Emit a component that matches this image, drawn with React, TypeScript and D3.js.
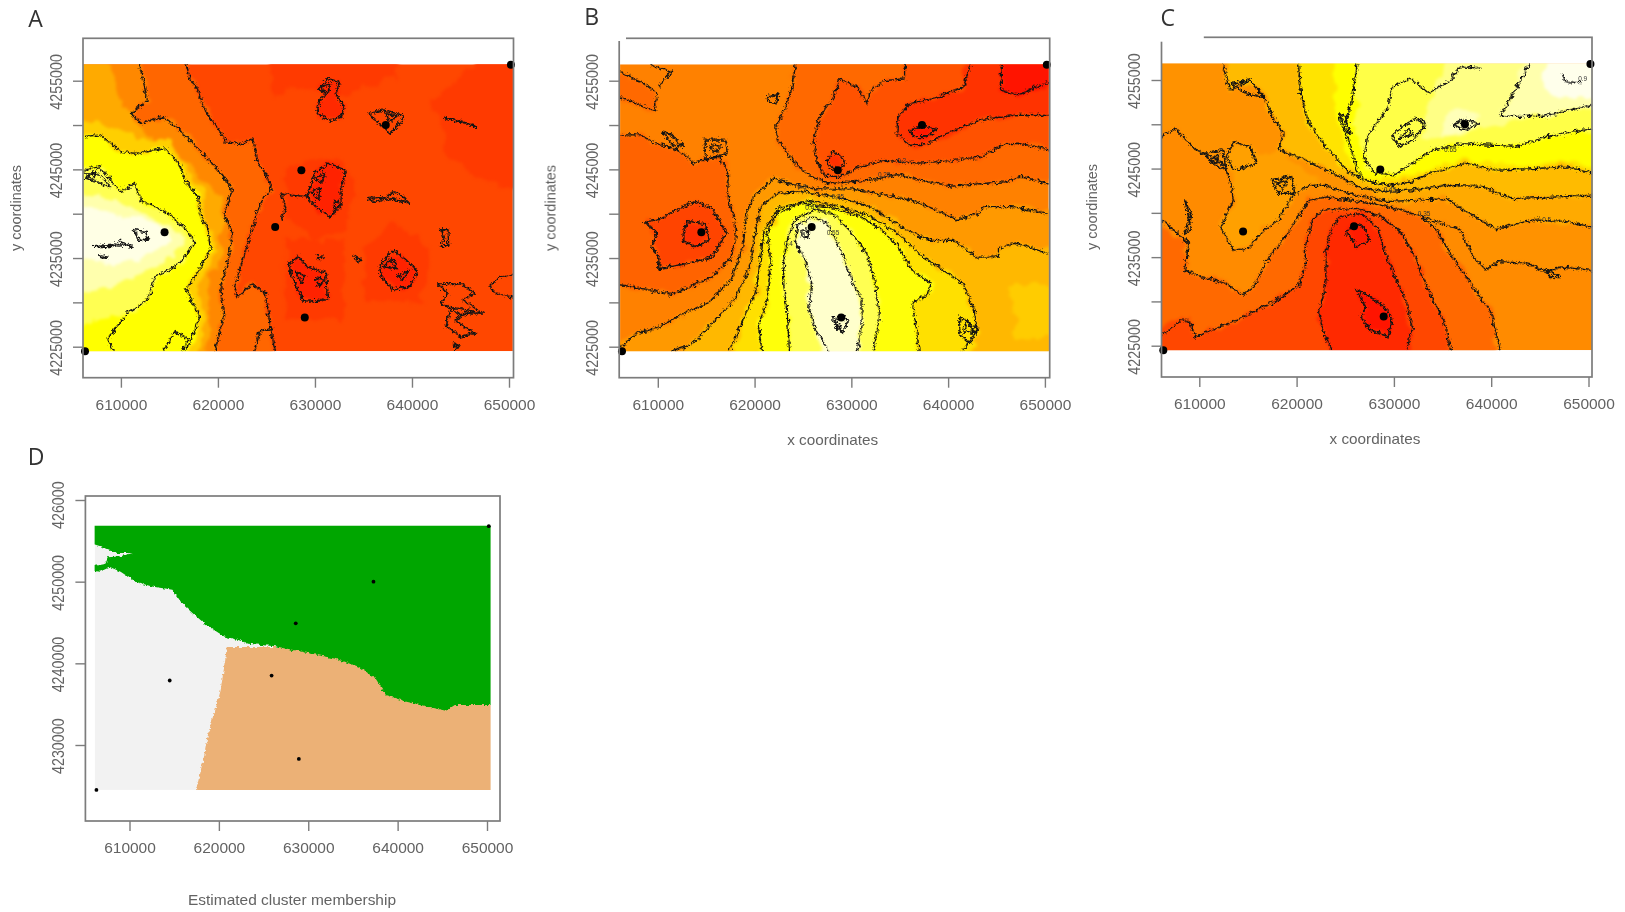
import React, { useEffect, useRef } from 'react';
import * as d3 from 'd3';

type Pt = [number, number];

// all map points are km east / north of this origin
const ORIGIN_E = 600000;
const ORIGIN_N = 4220000;
const E0 = 6.1;
const E1 = 50.4;
const N0 = 4.5;
const N1 = 36.85;

const xTicks = [610000, 620000, 630000, 640000, 650000];
const yTicks = [4225000, 4230000, 4235000, 4240000, 4245000, 4250000, 4255000];
const yLabelled = [4225000, 4235000, 4245000, 4255000];
const dYTicks = [4230000, 4240000, 4250000, 4260000];
const dYLabels = ['4230000', '4240000', '4250000', '426000'];

const stations: Pt[] = [[14.5, 17.9], [25.9, 18.5], [28.6, 24.9], [37.3, 30], [28.95, 8.3], [6.3, 4.5], [50.2, 36.8]];

// ---- panel A
const aLine1: Pt[] = [[16.7, 36.85], [17.2, 35.1], [18, 33.9], [18.5, 32], [19.2, 30.9], [20.3, 29.1], [20.8, 28.1], [22.4, 27.9], [23.6, 28.5], [24, 26], [24.9, 24.5], [25.6, 22.7], [24.7, 21.9], [24, 20], [23.5, 18.2], [22.9, 15.9], [22.2, 13.6], [21.7, 11.8], [22, 10.6], [23.5, 12.1], [24.9, 11], [25.3, 8], [25.6, 6.1], [25.9, 4.5]];
const aLine2: Pt[] = [[11.9, 36.85], [12.3, 35.1], [12.7, 32.8], [11, 31.3], [12.1, 30.2], [14.2, 30.9], [15.3, 30.2], [16.7, 28.7], [18.8, 26.4], [20.6, 24.2], [21.5, 22.7], [20.6, 20], [21.5, 17.8], [21, 14.4], [20.3, 11.8], [20.6, 8.4], [19.7, 4.5]];
const aLine3: Pt[] = [[6.1, 28.7], [7.8, 28.9], [10, 27], [11.7, 26.8], [14.5, 27.4], [16, 25.7], [16.7, 23.6], [18, 21.9], [18.2, 19.7], [19, 18.2], [19.2, 15.9], [18, 13.6], [16.7, 11.4], [18.1, 8.4], [17.6, 6.7], [16.7, 4.5]];
const aLine4: Pt[] = [[6.1, 24.9], [7.8, 25.3], [8.9, 23.8], [10, 22.5], [11.4, 23.4], [12.1, 21.5], [13.5, 20.8], [15.3, 19.7], [17.1, 17.8], [17.6, 16.7], [16.4, 14.8], [14.9, 13.6], [13.5, 12.9], [12.8, 10.3], [10.7, 8.8], [9.3, 6.9], [8.6, 5.8], [9.3, 4.5]];
const aEdge3: Pt[] = [[8.2, 36.85], [10, 32.8], [12.5, 29.1], [16, 26.4], [18.6, 23.8], [20.3, 21.5], [20.3, 18.5], [20.3, 15.5], [18.8, 12.1], [19.2, 8.4], [18.5, 4.5]];
const aEdge4: Pt[] = [[6.1, 30.6], [8.2, 30.2], [11.7, 28.3], [15.3, 28.3], [16.7, 25.3], [18.5, 22.7], [18.8, 19.7], [19.7, 17], [19.2, 14], [17.8, 11.8], [18.7, 8.4], [18, 4.5]];
const aBlob1: Pt[] = [[30.4, 34.1], [31.3, 35.2], [32.5, 34.8], [32.2, 33.4], [33, 31.9], [32.7, 30.9], [31.6, 30.5], [30.2, 31.3], [30.5, 32.8], [31.1, 33.4]];
const aBlob2: Pt[] = [[29.9, 24.5], [31.3, 25.7], [33.2, 24.9], [32.7, 22.7], [32.7, 20.8], [31.6, 19.7], [30.2, 20.6], [29.2, 21.9], [29.5, 23]];
const aBlob3: Pt[] = [[27.4, 14.4], [28.3, 15.2], [29.2, 14], [31.1, 13.3], [31.3, 10.3], [28.8, 10.1], [28.1, 11.8], [27.4, 13.6]];
const aBlob4: Pt[] = [[36.6, 14], [38, 15.9], [39.4, 14.8], [40.5, 13.6], [39.8, 11.8], [38, 11.4], [36.9, 12.9]];
const aLevels = [0.17, 0.17, 0.17, 0.17, 0.17, 0.3, 0.4, 0.5, 0.61, 0.75, 0.83, 0.92, 0.975, 0.12, 0.1, 0.1, 0.1];
const aRings: Pt[][] = [
  [[25.3, 36.85], [25.5, 34], [26, 33.2], [27, 34.5], [30, 34], [32, 33], [34, 34], [36, 34.5], [38, 35.5], [40, 36.85]],
  [[42, 33], [44, 34], [47, 36.85], [50.4, 36.85], [50.4, 22], [47, 24], [44, 26], [43, 30]],
  [[27, 25], [30, 26], [33, 26], [34, 22], [33, 18], [30, 17], [27, 20]],
  [[27, 8], [33, 8], [33, 17], [27, 17]],
  [[35, 10], [41, 10], [42, 16], [38, 19], [35, 16]],
  [...aLine1, [E0, N0], [E0, N1]],
  [...aLine2, [E0, N0], [E0, N1]],
  [...aEdge3, [E0, N0], [E0, N1]],
  [...aEdge4, [E0, N0]],
  [...aLine3, [E0, N0]],
  [...aLine4.slice(0, 15), [8, 8], [6.1, 7]],
  [[6.1, 22.7], [9.6, 21.5], [12.5, 20], [15.3, 18.5], [16.7, 17], [15.3, 15.2], [12.5, 13.6], [9.6, 11.8], [6.1, 11]],
  [[6.1, 20.8], [9.6, 20], [14, 18.9], [15.3, 17], [13, 15.2], [9.6, 14.5], [6.1, 14.8]],
  aBlob1, aBlob2, aBlob3, aBlob4,
];
const aLines: Pt[][] = [
  aLine1, aLine2, aLine3, aLine4,
  [[6.1, 24.5], [7.8, 24.5], [8.9, 23], [7.8, 23.4], [6.5, 24.1]],
  [[14.3, 4.5], [15.6, 6.7], [16.9, 5.9], [16.3, 4.5]],
  [[23.8, 4.5], [24.3, 6.7], [25.6, 7.1]],
  [[29.2, 21.9], [27.7, 22.1], [26.5, 22.3], [27, 20.8], [26.5, 19.3]],
  [[48, 11.8], [49, 12.9], [50.4, 13.1]],
  [[50.4, 10.6], [48.7, 11], [48, 11.8]],
];
const aLoops: Pt[][] = [
  aBlob1, aBlob2, aBlob3, aBlob4,
  [[35.6, 31.3], [37, 31.7], [39.1, 31.1], [38.8, 30.2], [37.7, 29.1], [36.6, 30.2], [35.9, 30.9]],
  [[43.3, 30.8], [45.1, 30.4], [46.7, 29.8], [45.5, 30.2]],
  [[35.4, 21.7], [37.3, 21.9], [38.4, 22.5], [39.8, 21.2], [37.7, 21.7], [36, 21.4]],
  [[43, 18.2], [43.7, 18.2], [43.8, 16.3], [43, 16.3], [43.3, 17.2]],
  [[42.6, 12.1], [45.1, 12.1], [46.5, 11], [45.2, 10.3], [47.2, 8.8], [45.5, 8.8], [44.4, 8], [46.5, 6.5], [45.1, 6.1], [43.5, 7.3], [44, 9.2], [43, 9.9], [43.7, 11]],
  [[34.1, 15.2], [34.8, 14.8], [34.3, 14.6]],
  [[44.3, 5.3], [44.8, 5.1], [44.5, 4.7]],
  [[30.2, 15.2], [30.8, 15.1], [30.4, 14.8]],
  [[11.3, 18.2], [12.5, 18], [12.8, 17], [11.9, 17]],
  [[7.1, 16.3], [9, 16.3], [9.9, 16.9], [11.2, 16.3], [9.9, 16.5]],
  [[7.8, 15.3], [8.7, 15.1], [8.2, 15]],
  [[30.6, 34.4], [31.6, 34.6], [31.4, 33.6], [30.8, 33.8]],
  [[30, 24], [31, 24.6], [30.8, 23.5]],
  [[29.6, 22.4], [30.5, 23], [30.4, 21.6]],
  [[32, 21.5], [32.6, 21], [32, 20.4]],
  [[28, 13.5], [29, 13], [28.6, 12.2]],
  [[30, 12.8], [31, 12.6], [30.4, 11.8]],
  [[37, 14], [38, 15], [38.4, 13.8]],
  [[38.6, 13], [39.6, 13.6], [39, 12.4]],
  [[37.3, 31.3], [38.5, 31], [37.6, 30.4]],
  [[44, 9.5], [46.4, 9], [45, 8.5]],
  [[6.3, 24], [7.5, 24.8], [7.2, 23.9]],
];
const aBaseLevel = 0.21;

// ---- panel B
const bLeft: Pt[] = [[6, 28.9], [8.2, 28.9], [9.9, 27.9], [12.1, 27.2], [13.8, 25.7], [14.9, 26.1], [16.3, 26.4], [17.2, 24.9], [17.3, 21.5], [17.9, 19.7], [18.1, 17.4], [17.6, 15.1], [15.6, 12.9], [13.5, 11.8], [11.4, 10.9], [9.2, 11.4], [6, 12]];
const bLoop2: Pt[] = [[8.7, 19.1], [10.1, 19.3], [11.2, 20], [13.8, 21.4], [15.6, 20.6], [17.1, 17.8], [15.6, 15.1], [13.1, 14.4], [10.1, 13.8], [10.1, 15.1], [9.4, 16.3], [9.9, 17.8]];
const bLoop3: Pt[] = [[12.6, 17.8], [13.1, 19.1], [14.9, 18.9], [15.3, 17], [13.8, 16.3], [12.6, 17]];
const bCorner: Pt[] = [[6, 36.1], [8.5, 34.7], [9.9, 33.6], [9.7, 31.6], [7.8, 32.4], [6, 33.2]];
const bTip: Pt[] = [[9.2, 36.8], [11.5, 36], [10.1, 34.4]];
const bUpper1: Pt[] = [[24.2, 36.85], [24, 34.7], [23.1, 31.7], [22.2, 29.8], [22.4, 28.3], [24.2, 25.7], [25.6, 24.3], [27.7, 23.4], [29.9, 23.6], [32, 23.8], [34.8, 24.4], [37, 23.8], [40.5, 23.1], [43.4, 23.4], [45.9, 23.6], [47.6, 24.2], [50.4, 23.4]];
const bUpper2: Pt[] = [[35.5, 36.85], [35.5, 35.2], [33.4, 35], [32, 33.9], [31.6, 32.4], [30.6, 34.3], [28.8, 35.2], [28.1, 33.1], [26.7, 30.9], [26.1, 28.3], [26.5, 25.7], [27.4, 24.2], [29.1, 24.2], [30.9, 25.3], [33.4, 26], [37, 25.7], [40.5, 26], [43.4, 26.4], [45.9, 27.9], [47.6, 27.9], [50.4, 27.2]];
const bUpper3: Pt[] = [[42.3, 36.85], [41.6, 34.3], [38.8, 33.1], [36, 32.4], [34.8, 30.9], [34.7, 29], [36, 27.8], [37.7, 27.8], [39.8, 29], [43.4, 30.6], [46.9, 31.1], [50.4, 31.1]];
const bUpper4: Pt[] = [[45.5, 36.85], [45.5, 33.9], [47.3, 33.4], [50.4, 34.9]];
const bStation1: Pt[] = [[27.5, 26], [28.1, 27], [29.1, 26.3], [29.3, 25.5], [28.4, 25], [27.7, 25.4]];
const bStation2: Pt[] = [[36, 29.3], [37.3, 29.9], [38.8, 29.5], [37.7, 28.7], [36.5, 28.7]];
const bFan0: Pt[] = [[6.2, 5], [7.8, 6.5], [9.9, 7.1], [12.8, 8.8], [15.3, 10], [17.6, 12.6], [18.8, 16.3], [19.2, 20.1], [19.9, 21.9], [22, 24], [23.5, 23.4], [26.3, 22.8], [29.9, 22.8], [32.7, 22.3], [36.3, 21.5], [38.8, 20.4], [40.9, 19.3], [43, 20], [43.7, 20.8], [46.6, 20.8], [50.4, 20]];
const bFan1: Pt[] = [[11.4, 4.5], [13.5, 5.2], [15.6, 7.6], [18.1, 10.6], [19.5, 14], [20.1, 18.1], [20.6, 20.8], [22.4, 22.3], [24.9, 22.5], [28.4, 21.9], [32, 20.8], [35.2, 18.5], [38, 17], [40.5, 17], [43, 15.1], [45.2, 15.1], [45.2, 16.1], [46.9, 16.7], [50.4, 15.5]];
const bFan2: Pt[] = [[17.4, 4.5], [18.8, 8], [20.1, 11], [20.6, 14.8], [21, 18.1], [22.4, 20.6], [25.6, 21.5], [28.8, 20.8], [32, 19.7], [34.8, 17.8], [37, 15.5], [39.5, 13.6], [41.6, 12.1], [42.7, 9.1], [43, 6.8], [41.4, 4.5]];
const bFan3: Pt[] = [[20.8, 4.5], [20.4, 7.3], [21.3, 10.3], [21.7, 14.8], [21.3, 17.8], [22.4, 20.1], [24.9, 21.2], [28.4, 20.6], [30.9, 19.7], [33.1, 18.2], [34.8, 16.3], [36.3, 13.6], [38.2, 12.1], [38, 11], [36.3, 9.9], [36.8, 6.5], [37, 4.5]];
const bFan4: Pt[] = [[23.6, 4.5], [23.4, 8.4], [23, 12.1], [23, 14.8], [23.5, 17.5], [24.2, 19.4], [26.3, 20.4], [28.1, 20], [29.9, 18], [31.6, 15.5], [32.5, 12.1], [32.9, 8.4], [32.3, 4.5]];
const bFan5: Pt[] = [[27.7, 4.5], [26.3, 6.9], [25.6, 9.4], [25.9, 12.1], [25.2, 14.8], [24.2, 17], [24.5, 18.8], [25.9, 19.6], [27.4, 19.1], [28.4, 17], [29.2, 15.1], [30.2, 12.1], [31.1, 10.3], [31.1, 7.3], [30.6, 4.5]];
const bLevels = [0.29, 0.2, 0.14, 0.31, 0.31, 0.24, 0.15, 0.06, 0.14, 0.07, 0.45, 0.54, 0.6, 0.66, 0.76, 0.83, 0.95];
const bRings: Pt[][] = [
  bLeft, bLoop2, bLoop3,
  bCorner,
  [...bUpper1, [E1, N1]],
  [...bUpper2, [E1, N1]],
  [...bUpper3, [E1, N1]],
  [...bUpper4, [E1, N1]],
  bStation1, bStation2,
  [...bFan0, [E1, N0], [E0, N0]],
  [...bFan1, [E1, N0]],
  [[46.5, 12], [E1, 12], [E1, 6], [47, 6]],
  bFan2, bFan3, bFan4, bFan5,
];
const bLines: Pt[][] = [bLeft, bCorner, bTip, bUpper1, bUpper2, bUpper3, bUpper4, bFan0, bFan1, bFan2, bFan3, bFan4, bFan5];
const bLoops: Pt[][] = [
  bLoop2, bLoop3, bStation1, bStation2,
  [[28.1, 8.4], [29.1, 8.4], [29.6, 8], [29.1, 6.5], [28.1, 8]],
  [[41.2, 8.4], [43, 7], [42.3, 5.3], [41.2, 6.4]],
  [[21.3, 33.2], [22.4, 33.4], [22.2, 32.4], [21.5, 32.6]],
  [[10.5, 29.2], [11.3, 29], [12.6, 27.6], [11.5, 27.8]],
  [[14.9, 28.3], [17, 28.3], [17.2, 26.8], [14.9, 26.1]],
  [[24.9, 18.2], [25.6, 18.1], [25.5, 17.3], [24.9, 17.4]],
  [[15.4, 27.8], [16.6, 27.6], [15.8, 26.8]],
  [[42, 8], [42.6, 6.6], [41.6, 6.8]],
  [[28.4, 8], [29, 7.4], [28.5, 6.9]],
];
const bBaseLevel = 0.38;
const bLabels = ['0.25', '0.3', '0.35', '0.45', '0.55', '0.4', '0.2'];
const bLabelAt: Pt[] = [[33.4, 24.4], [24.9, 23], [28.6, 21.9], [25.9, 20.6], [28.1, 17.8], [23.5, 16.6], [35.2, 26]];

// ---- panel C
const cMid: Pt[] = [[6.1, 28.6], [7.6, 29.5], [9.6, 27.1], [11, 26.5], [12.6, 25.4], [13.3, 23], [13.5, 21.4], [12.2, 18.4], [13.5, 15.8], [15.1, 16], [16.3, 17.7], [18.1, 19.2], [19.5, 21.8], [21.3, 23.1], [23, 23.1], [25.9, 22], [29.4, 21.3], [32.2, 21.4], [35.4, 21.6], [37.2, 20.3], [40.4, 18.2], [44.3, 19.2], [47.8, 19], [E1, 18.4]];
const cUpper1: Pt[] = [[12.4, 36.85], [13.1, 33.9], [15.2, 35], [16.7, 33.1], [17.5, 30.9], [18.6, 29], [18.2, 27.1], [20.9, 26], [23.7, 24.5], [26.6, 22.8], [29, 22.4], [31.9, 22.6], [35.4, 23.1], [39, 23], [42.1, 21.6], [47.1, 21.8], [E1, 22]];
const cUpper2: Pt[] = [[20.2, 36.85], [20.4, 33.5], [21.3, 30.1], [23, 27.5], [25.2, 24.8], [26.9, 23.7], [29.4, 23.1], [31.9, 23.5], [33.6, 24.5], [37.5, 25.6], [40.4, 24.8], [44.3, 25], [47.8, 25.2], [E1, 24.5]];
const cUpper3: Pt[] = [[26.2, 36.85], [25.7, 32.7], [24.8, 29.4], [25.5, 27.8], [26.2, 24.8], [26.9, 23.9]];
const cUpper4: Pt[] = [[39, 36.3], [36.8, 36.5], [35.8, 35], [33.6, 33.5], [31.7, 35.2], [29.8, 34.2], [29.4, 32], [27.3, 28.6], [26.9, 26.3], [28, 24.5], [30.1, 24.3], [31.9, 25.6], [34, 27.1], [37.2, 27.8], [42.5, 27.5], [45.7, 28.6], [E1, 29.5]];
const cUpper5: Pt[] = [[43.9, 36.85], [42.5, 33.9], [40.9, 30.9], [45.3, 30.9], [E1, 32.2]];
const cLow1: Pt[] = [[6.2, 19.2], [8.9, 16.6], [8.5, 13.5], [10.3, 12.8], [12.8, 12], [14.5, 10.7], [15.6, 11.7], [17, 14.7], [19.1, 17.7], [20.2, 19.6], [21.3, 21.4], [23, 21.8], [26.6, 21.3], [29.4, 20.7], [32.9, 19.6], [34.4, 18.1], [35.8, 15.4], [37.9, 12], [40, 8.7], [40.9, 4.5]];
const cRight: Pt[] = [[32.9, 19.6], [36.8, 18.1], [38.2, 15], [39.5, 13.5], [40.7, 14.5], [43.9, 14.3], [45.7, 13.2], [47.1, 13.9], [E1, 13.5]];
const cLow2: Pt[] = [[6.2, 6.2], [8.2, 7.9], [8.9, 7.9], [9.6, 6], [13.8, 7.9], [17.4, 9.8], [20.2, 11.7], [20.9, 13.9], [20.9, 16.2], [21.6, 19.2], [22.7, 20.3], [26.2, 20.5], [28.7, 19.6], [30.8, 17.7], [32.2, 15], [32.9, 12.8], [34.4, 9.4], [35.4, 7.1], [35.8, 4.5]];
const cCore: Pt[] = [[23.6, 4.5], [22.7, 6.8], [22.3, 8.7], [23, 12], [23, 15.4], [23.4, 17.7], [24.4, 19.6], [26.6, 19.9], [28.3, 18.4], [29, 15.8], [30.1, 12.8], [31.2, 10.2], [31.9, 7.1], [31.3, 4.5]];
const cPeak1: Pt[] = [[26.2, 11.3], [27.6, 10.5], [29, 9.4], [29.8, 7.9], [29.4, 6], [27.6, 6.8], [26.6, 8.3], [27.1, 9.4]];
const cPeak2: Pt[] = [[25, 17.7], [25.9, 18.8], [26.9, 18.4], [27.5, 16.9], [26.2, 16.2], [25.5, 17.3]];
const cLobe: Pt[] = [[12.8, 26.4], [13.5, 28], [15.2, 27.5], [15.9, 25.6], [13.5, 24.8]];
const cLevels = [0.43, 0.47, 0.47, 0.5, 0.55, 0.67, 0.75, 0.82, 0.88, 0.92, 0.93, 0.98, 0.31, 0.21, 0.12, 0.06, 0.08];
const cRings: Pt[][] = [
  [...cMid.slice(0, 17), ...cRight, [E1, N1], [E0, N1]],
  [[13.5, 21.4], [12.2, 18.4], [13.5, 15.8], [15.1, 16], [16.3, 17.7], [18.1, 19.2], [19.5, 21.8], [21.3, 23.1], [23, 23.1], [18.2, 27.1], [14, 26]],
  cLobe,
  [...cUpper1.slice(0, 10), ...cMid.slice(16), [E1, N1]],
  [...cUpper1, [E1, N1]],
  [...cUpper2, [E1, N1]],
  [[24, N1], [24, 31], [25, 27.5], [26, 25], [27, 23.9], [30, 23.7], [33, 24.5], [37, 26], [42, 25.6], [E1, 25.5], [E1, N1]],
  [[26.2, N1], [26, 30], [26.9, 26], [28, 24.5], [30, 24.3], [32, 25.6], [34, 27.1], [37.2, 27.8], [42.5, 27.5], [45.7, 28.6], [E1, 29.5], [E1, N1]],
  [[36, N1], [33.5, 32], [33, 28.5], [37, 29], [41, 30], [45, 30.9], [E1, 32.2], [E1, N1]],
  [...cUpper5, [E1, N1]],
  [[35, 29], [38, 29.5], [39, 31], [37, 32], [35.5, 31]],
  [[45.5, N1], [45.5, 34], [47, 32.9], [E1, 33], [E1, N1]],
  [...cLow1, [E0, N0], [E0, 19.2]],
  [...cLow2, [E0, N0]],
  cCore, cPeak1, cPeak2,
];
const cLines: Pt[][] = [cMid, cUpper1, cUpper2, cUpper3, cUpper4, cUpper5, cLow1, cRight, cLow2, cCore, [[47.3, 35.6], [47.6, 34.8], [49.2, 34.7]]];
const cLoops: Pt[][] = [
  cPeak1, cPeak2, cLobe,
  [[10.6, 26.7], [12.4, 27.1], [12.8, 24.8], [11.3, 25.6]],
  [[17.5, 23.7], [19.5, 24.1], [19.8, 22.2], [18.1, 22.2]],
  [[8.5, 21.4], [9.2, 19.9], [8.5, 17.7], [9.2, 18.1]],
  [[24.4, 31.2], [24.8, 29.4], [25.5, 29], [25, 30.9]],
  [[29.8, 28.6], [30.8, 29.7], [32.2, 30.7], [33.3, 30.1], [31.9, 28.2], [30.5, 27.5]],
  [[36, 29.9], [37.2, 30.5], [38.8, 30.1], [37.5, 29.4]],
  [[45.7, 13.5], [47.1, 12.8], [46, 12.8]],
  [[13.2, 34.6], [15.2, 35], [16.7, 33], [15, 33.4]],
  [[11, 26], [12, 26.6], [11.8, 25.6]],
  [[18, 23.4], [19, 23.6], [18.6, 22.6]],
  [[30.5, 28.3], [31.5, 29.5], [32, 28.8]],
];
const cBaseLevel = 0.41;
const cLabels = ['0.65', '0.45', '0.35', '0.5', '0.9'];
const cLabelAt: Pt[] = [[35.8, 27.1], [29.6, 22.6], [33.1, 19.9], [45.7, 19.2], [49.4, 35.1]];

// ---- panel D, cluster regions
const clusterColors = ['#F2F2F2', '#ECB176', '#00A600'];
const dBeige: Pt[] = [[20.9, 22], [20.6, 19.6], [20.2, 16.7], [19.6, 14.3], [18.8, 11.4], [18.2, 7.8], [17.1, N0], [E1, N0], [E1, 22]];
const dGreen: Pt[] = [[E0, N1], [E0, 35.1], [7.1, 34.2], [8.6, 33.5], [10.35, 33.5], [9, 33.1], [7.6, 33], [7.3, 32.2], [6.1, 31.6], [6.7, 31.2], [7.8, 31.8], [9, 31.2], [10.7, 30], [12.5, 29.4], [14.8, 29], [15.9, 27.3], [17.1, 26.1], [18.6, 24.7], [20.6, 23.3], [22.1, 22.9], [23.3, 22.4], [26.3, 22.1], [29.4, 21.4], [32.9, 20.6], [35.6, 19.6], [37.5, 18.2], [38.7, 16.1], [41, 15.3], [43.3, 14.7], [45.4, 14.2], [46.4, 14.9], [48.3, 14.9], [E1, 14.9], [E1, N1]];

// heat.colors style ramp: red to yellow, then yellow to white
const heat = d3.scaleLinear<string>().domain([0, 0.75, 1]).range(['#ff0000', '#ffff00', '#ffffff']).interpolate(d3.interpolateRgb);

interface Layout {
  name: string;
  box: [number, number, number, number];
  xRange: [number, number];
  yRange: [number, number];
  yDomain: [number, number];
}

const layoutA: Layout = { name: 'a', box: [83, 513.5, 38.3, 377.7], xRange: [120.9, 509], yRange: [346.7, 80.7], yDomain: [4225000, 4255000] };
const layoutB: Layout = { name: 'b', box: [619.2, 1049.7, 38.3, 377.7], xRange: [657.8, 1044.9], yRange: [346.7, 80.7], yDomain: [4225000, 4255000] };
const layoutC: Layout = { name: 'c', box: [1161.5, 1592, 37.3, 377], xRange: [1199.3, 1588.5], yRange: [345.7, 80], yDomain: [4225000, 4255000] };
const layoutD: Layout = { name: 'd', box: [85.4, 500, 496, 821], xRange: [129.5, 487], yRange: [745, 500], yDomain: [4230000, 4260000] };

const SANS = '"Liberation Sans", Arial, sans-serif';
const AXIS_GREY = '#7c7c7c';
const TEXT_GREY = '#636363';

// push ring vertices that sit on the image edge a little outside, the clip trims them back
const bleed = (ring: Pt[]): Pt[] => ring.map(([e, n]) => [
  e <= E0 + 0.15 ? E0 - 1.5 : e >= E1 - 0.15 ? E1 + 1.5 : e,
  n <= N0 + 0.15 ? N0 - 1.5 : n >= N1 - 0.15 ? N1 + 1.5 : n,
]);

function drawPanel(svg: any, layout: Layout, opts: any) {
  const [bx0, bx1, by0, by1] = layout.box;
  const x = d3.scaleLinear().domain([610000, 650000]).range(layout.xRange);
  const y = d3.scaleLinear().domain(layout.yDomain).range(layout.yRange);
  const px = (e: number) => x(ORIGIN_E + e * 1000);
  const py = (n: number) => y(ORIGIN_N + n * 1000);
  const line = d3.line<Pt>().x((d) => px(d[0])).y((d) => py(d[1]));

  const clipId = `clip-${layout.name}`;
  svg.append('clipPath').attr('id', clipId).append('rect')
    .attr('x', px(E0)).attr('y', py(N1))
    .attr('width', px(E1) - px(E0)).attr('height', py(N0) - py(N1));

  const map = svg.append('g').attr('clip-path', `url(#${clipId})`);
  const isHeat = opts.baseLevel !== undefined;
  map.append('rect')
    .attr('x', px(E0)).attr('y', py(N1))
    .attr('width', px(E1) - px(E0)).attr('height', py(N0) - py(N1))
    .attr('fill', isHeat ? heat(opts.baseLevel) : clusterColors[0]);

  const fills = map.append('g').attr('filter', isHeat ? 'url(#jagFill)' : 'url(#jagEdge)');
  opts.rings.forEach((ring: Pt[], i: number) => {
    fills.append('path').attr('d', line(bleed(ring)) + 'Z')
      .attr('fill', isHeat ? heat(opts.levels[i]) : clusterColors[i + 1]);
  });

  const contours = map.append('g').attr('filter', 'url(#jagLine)')
    .attr('fill', 'none').attr('stroke', '#141414').attr('stroke-width', 1.25);
  (opts.lines || []).forEach((l: Pt[]) => contours.append('path').attr('d', line(l)));
  (opts.loops || []).forEach((l: Pt[]) => contours.append('path').attr('d', line(l) + 'Z'));

  // second noisier pass gives the scribbled clumps the interpolated contours have
  const scribble = map.append('g').attr('filter', 'url(#jagLine2)')
    .attr('fill', 'none').attr('stroke', '#141414').attr('stroke-width', 1);
  (opts.lines || []).forEach((l: Pt[]) => scribble.append('path').attr('d', line(l)).attr('stroke-opacity', 0.55));
  (opts.loops || []).forEach((l: Pt[]) => scribble.append('path').attr('d', line(l) + 'Z'));

  const soft = svg.append('g').attr('filter', 'url(#soft)');
  (opts.labels || []).forEach((t: string, i: number) => {
    const at = opts.labelAt[i];
    soft.append('text').attr('x', px(at[0])).attr('y', py(at[1]) + 2)
      .attr('text-anchor', 'middle').attr('font-family', SANS).attr('font-size', 6.5)
      .attr('fill', '#333').text(t);
  });

  // sampled stations
  soft.selectAll('circle.st').data(stations).enter().append('circle')
    .attr('cx', (d: Pt) => px(d[0])).attr('cy', (d: Pt) => py(d[1]))
    .attr('r', opts.stationR).attr('fill', '#000');

  // frame and axes
  soft.append('rect').attr('x', bx0).attr('y', by0)
    .attr('width', bx1 - bx0).attr('height', by1 - by0)
    .attr('fill', 'none').attr('stroke', AXIS_GREY).attr('stroke-width', 1.7);
  if (opts.mask) {
    soft.append('rect').attr('x', opts.mask[0]).attr('y', opts.mask[1])
      .attr('width', opts.mask[2]).attr('height', opts.mask[3]).attr('fill', '#fff');
  }

  const xAxis = soft.append('g').attr('transform', `translate(0,${by1})`)
    .call(d3.axisBottom(x).tickValues(xTicks).tickSize(10).tickPadding(11).tickFormat(d3.format('d') as any));
  xAxis.select('.domain').remove();
  xAxis.selectAll('line').attr('stroke', AXIS_GREY).attr('stroke-width', 1.4);
  xAxis.selectAll('text').attr('font-family', SANS).attr('font-size', 15.5).attr('fill', TEXT_GREY);

  const yAxis = soft.append('g').attr('transform', `translate(${bx0},0)`)
    .call(d3.axisLeft(y).tickValues(opts.yTicks).tickSize(10).tickFormat((d: any, i: number) => opts.yText(d, i)));
  yAxis.select('.domain').remove();
  yAxis.selectAll('line').attr('stroke', AXIS_GREY).attr('stroke-width', 1.4);
  yAxis.selectAll('text')
    .attr('font-family', SANS).attr('font-size', 16.5).attr('fill', TEXT_GREY)
    .attr('y', 0).attr('dy', '.35em')
    .attr('transform', 'translate(-27,0) rotate(-90)')
    .each(function (this: any) {
      const t = d3.select(this);
      const len = t.text().length;
      t.attr('textLength', len * 7.95).attr('lengthAdjust', 'spacingAndGlyphs')
        .attr('x', -28.5).attr('text-anchor', 'start');
    });

  if (opts.xTitle) {
    soft.append('text').attr('x', opts.xTitle[1]).attr('y', opts.xTitle[2])
      .attr('text-anchor', 'middle').attr('font-family', SANS).attr('font-size', 14.5)
      .attr('fill', TEXT_GREY).attr('textLength', opts.xTitle[3]).attr('lengthAdjust', 'spacingAndGlyphs')
      .text(opts.xTitle[0]);
  }
  if (opts.yTitle) {
    soft.append('text').attr('transform', `translate(${opts.yTitle[0]},${opts.yTitle[1]}) rotate(-90)`)
      .attr('text-anchor', 'middle').attr('font-family', SANS).attr('font-size', 15)
      .attr('fill', TEXT_GREY).attr('textLength', 86).attr('lengthAdjust', 'spacingAndGlyphs')
      .text('y coordinates');
  }
  soft.append('text').attr('x', opts.letter[1]).attr('y', opts.letter[2])
    .attr('text-anchor', 'middle').attr('font-family', '"Open Sans", sans-serif').attr('font-size', 23)
    .attr('fill', '#333').text(opts.letter[0]);
}

export default function App() {
  const ref = useRef<SVGSVGElement>(null);

  useEffect(() => {
    const svg = d3.select(ref.current);
    svg.selectAll('*').remove();

    const defs = svg.append('defs');
    const soft = defs.append('filter').attr('id', 'soft').attr('color-interpolation-filters', 'sRGB')
      .attr('filterUnits', 'userSpaceOnUse').attr('x', 0).attr('y', 0).attr('width', 1625).attr('height', 912);
    soft.append('feGaussianBlur').attr('stdDeviation', 0.65);

    const jag = (id: string, freq: number, scale: number, blur: number, seed: number) => {
      const f = defs.append('filter').attr('id', id).attr('color-interpolation-filters', 'sRGB')
        .attr('filterUnits', 'userSpaceOnUse').attr('x', 0).attr('y', 0).attr('width', 1625).attr('height', 912);
      f.append('feTurbulence').attr('type', 'fractalNoise').attr('baseFrequency', freq)
        .attr('numOctaves', 3).attr('seed', seed).attr('result', 'n');
      f.append('feDisplacementMap').attr('in', 'SourceGraphic').attr('in2', 'n')
        .attr('scale', scale).attr('xChannelSelector', 'R').attr('yChannelSelector', 'G').attr('result', 'd');
      f.append('feGaussianBlur').attr('in', 'd').attr('stdDeviation', blur);
    };
    jag('jagFill', 0.07, 14, 1.4, 4);
    jag('jagEdge', 0.3, 4, 0.5, 4);
    jag('jagLine', 0.22, 7, 0.45, 9);
    jag('jagLine2', 0.5, 8, 0.45, 21);

    const heatTicks = { yTicks, yText: (d: number) => (yLabelled.includes(d) ? String(d) : '') };

    drawPanel(svg, layoutA, {
      ...heatTicks, baseLevel: aBaseLevel, levels: aLevels, rings: aRings, lines: aLines, loops: aLoops,
      stationR: 4, letter: ['A', 35.5, 27], yTitle: [20.6, 208],
    });
    drawPanel(svg, layoutB, {
      ...heatTicks, baseLevel: bBaseLevel, levels: bLevels, rings: bRings, lines: bLines, loops: bLoops,
      labels: bLabels, labelAt: bLabelAt, stationR: 4, letter: ['B', 591.7, 25], yTitle: [555.5, 208],
      mask: [617, 35, 9, 6], xTitle: ['x coordinates', 832.7, 445, 91],
    });
    drawPanel(svg, layoutC, {
      ...heatTicks, baseLevel: cBaseLevel, levels: cLevels, rings: cRings, lines: cLines, loops: cLoops,
      labels: cLabels, labelAt: cLabelAt, stationR: 4, letter: ['C', 1167.7, 26], yTitle: [1097, 207],
      mask: [1159, 34, 44.8, 7.7], xTitle: ['x coordinates', 1375, 444, 91],
    });
    drawPanel(svg, layoutD, {
      yTicks: dYTicks, yText: (d: number) => dYLabels[dYTicks.indexOf(d)],
      rings: [dBeige, dGreen], stationR: 1.9, letter: ['D', 36, 465],
      xTitle: ['Estimated cluster membership', 292, 905, 208],
    });
  }, []);

  return <svg ref={ref} width={1625} height={912} style={{ position: 'absolute', left: 0, top: 0, background: '#fff' }} />;
}
